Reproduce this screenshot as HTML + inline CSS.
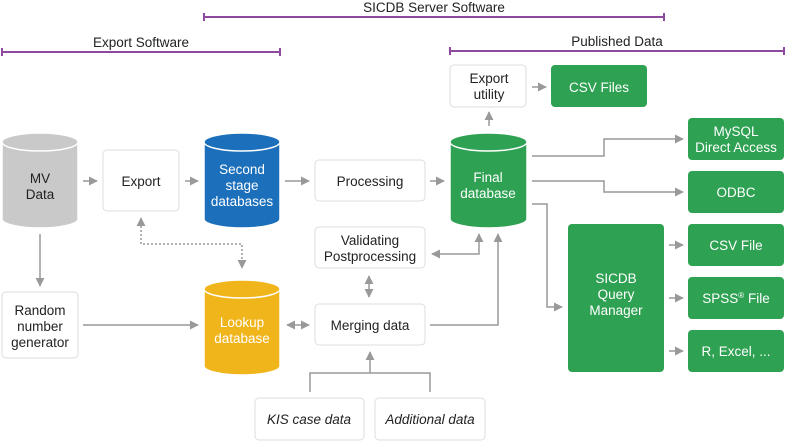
<!DOCTYPE html>
<html><head><meta charset="utf-8"><style>
html,body{margin:0;padding:0;background:#fff;}
svg{display:block;font-family:"Liberation Sans",Arial,sans-serif;}
</style></head><body>
<svg width="786" height="441" viewBox="0 0 786 441" xmlns="http://www.w3.org/2000/svg">
<defs>
<marker id="a" viewBox="0 0 10 10" refX="9" refY="5" markerWidth="9" markerHeight="9" markerUnits="userSpaceOnUse" orient="auto-start-reverse"><path d="M0,0 L10,5 L0,10 z" fill="#999"/></marker>
</defs>
<g stroke="#8e4a9e" stroke-width="2" fill="none">
<line x1="204" y1="17" x2="664" y2="17"/><line x1="204" y1="13" x2="204" y2="21"/><line x1="664" y1="13" x2="664" y2="21"/>
<line x1="2" y1="52" x2="280" y2="52"/><line x1="2" y1="48" x2="2" y2="56"/><line x1="280" y1="48" x2="280" y2="56"/>
<line x1="450" y1="51" x2="784" y2="51"/><line x1="450" y1="47" x2="450" y2="55"/><line x1="784" y1="47" x2="784" y2="55"/>
</g>
<g font-size="13.5" fill="#222" text-anchor="middle">
<text x="434" y="12">SICDB Server Software</text>
<text x="141" y="47">Export Software</text>
<text x="617" y="46">Published Data</text>
</g>
<g stroke="#999" stroke-width="1.5" fill="none" marker-end="url(#a)">
<line x1="83" y1="181" x2="97" y2="181"/>
<line x1="185" y1="181" x2="198" y2="181"/>
<line x1="285" y1="181" x2="309" y2="181"/>
<line x1="430" y1="181" x2="444" y2="181"/>
<line x1="489" y1="126" x2="489" y2="112"/>
<line x1="532" y1="87" x2="546" y2="87"/>
<polyline points="532,156 604,156 604,139 683,139"/>
<polyline points="532,181 604,181 604,192 683,192"/>
<polyline points="532,204 547,204 547,307 562,307"/>
<line x1="669" y1="245" x2="683" y2="245"/>
<line x1="669" y1="298" x2="683" y2="298"/>
<line x1="669" y1="351" x2="683" y2="351"/>
<polyline points="432,254 479,254 479,234" marker-start="url(#a)"/>
<polyline points="430,325 498,325 498,234"/>
<line x1="369" y1="276" x2="369" y2="297" marker-start="url(#a)"/>
<line x1="287" y1="325" x2="309" y2="325" marker-start="url(#a)"/>
<line x1="40" y1="234" x2="40" y2="286"/>
<line x1="83" y1="325" x2="198" y2="325"/>
<polyline points="310,392 310,373 430,373 430,392" marker-end="none"/>
<line x1="370" y1="373" x2="370" y2="352"/>
<polyline points="141,218 141,244 242,244 242,268" stroke-dasharray="2,2" marker-start="url(#a)"/>
</g>
<g stroke="#fff" stroke-width="1.5">
<path d="M2,142 A38,9 0 0 1 78,142 V219 A38,9 0 0 1 2,219 Z" fill="#c9c9c9"/>
<ellipse cx="40" cy="142" rx="38" ry="9" fill="#c9c9c9"/>
<path d="M204,142 A38,9 0 0 1 280,142 V219 A38,9 0 0 1 204,219 Z" fill="#1b6fbb"/>
<ellipse cx="242" cy="142" rx="38" ry="9" fill="#1b6fbb"/>
<path d="M450,142 A38.5,9 0 0 1 527,142 V219 A38.5,9 0 0 1 450,219 Z" fill="#2ea152"/>
<ellipse cx="488.5" cy="142" rx="38.5" ry="9" fill="#2ea152"/>
<path d="M204,289 A38,9 0 0 1 280,289 V366 A38,9 0 0 1 204,366 Z" fill="#f1b51c"/>
<ellipse cx="242" cy="289" rx="38" ry="9" fill="#f1b51c"/>
</g>
<g fill="#fff" stroke="#ddd" stroke-width="1">
<rect x="103" y="150" width="76" height="61" rx="4"/>
<rect x="315" y="160" width="110" height="41" rx="4"/>
<rect x="315" y="227" width="110" height="41" rx="4"/>
<rect x="315" y="304" width="110" height="41" rx="4"/>
<rect x="2" y="292" width="76" height="66" rx="4"/>
<rect x="450" y="65" width="76" height="42" rx="4"/>
<rect x="255" y="398" width="109" height="42" rx="4"/>
<rect x="375" y="398" width="110" height="42" rx="4"/>
</g>
<g fill="#2ea152">
<rect x="551" y="65" width="96" height="42" rx="4"/>
<rect x="688" y="118" width="96" height="42" rx="4"/>
<rect x="688" y="171" width="96" height="42" rx="4"/>
<rect x="568" y="224" width="96" height="148" rx="4"/>
<rect x="688" y="224" width="96" height="42" rx="4"/>
<rect x="688" y="277" width="96" height="42" rx="4"/>
<rect x="688" y="330" width="96" height="42" rx="4"/>
</g>
<g font-size="13.5" text-anchor="middle" fill="#222">
<text x="40" y="183">MV</text><text x="40" y="199">Data</text>
<text x="141" y="186">Export</text>
<text x="370" y="186">Processing</text>
<text x="370" y="245">Validating</text><text x="370" y="261">Postprocessing</text>
<text x="370" y="330">Merging data</text>
<text x="40" y="315">Random</text><text x="40" y="331">number</text><text x="40" y="347">generator</text>
<text x="489" y="83">Export</text><text x="489" y="99">utility</text>
<text x="309" y="424" font-style="italic">KIS case data</text>
<text x="430" y="424" font-style="italic">Additional data</text>
</g>
<g font-size="13.5" text-anchor="middle" fill="#fff">
<text x="242" y="174">Second</text><text x="242" y="190">stage</text><text x="242" y="206">databases</text>
<text x="488" y="182">Final</text><text x="488" y="198">database</text>
<text x="242" y="327">Lookup</text><text x="242" y="343">database</text>
<text x="599" y="92">CSV Files</text>
<text x="736" y="136">MySQL</text><text x="736" y="152">Direct Access</text>
<text x="736" y="197">ODBC</text>
<text x="616" y="283">SICDB</text><text x="616" y="299">Query</text><text x="616" y="315">Manager</text>
<text x="736" y="250">CSV File</text>
<text x="736" y="303">SPSS<tspan font-size="8" dy="-5">®</tspan><tspan dy="5"> File</tspan></text>
<text x="736" y="356">R, Excel, ...</text>
</g>
</svg>
</body></html>
